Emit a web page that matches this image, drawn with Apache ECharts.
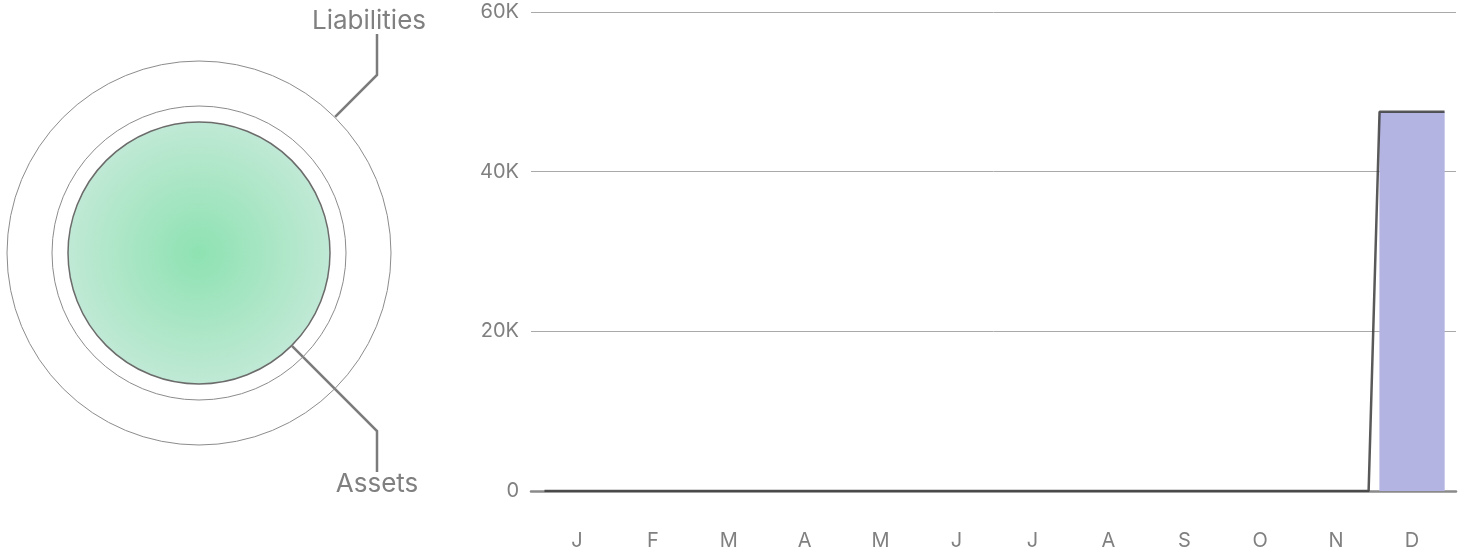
<!DOCTYPE html>
<html><head><meta charset="utf-8">
<script src="https://cdn.jsdelivr.net/npm/echarts@6/dist/echarts.min.js"></script>
<style>html,body{margin:0;padding:0;background:#fff}#c{width:1468px;height:554px}</style>
</head><body><div id="c"></div>
<script>
const months = ['J','F','M','A','M','J','J','A','S','O','N','D'];
const assetsByMonth = [0,0,0,0,0,0,0,0,0,0,0,47500];
const netByMonth = [0,0,0,0,0,0,0,0,0,0,0,47500];
const yTicks = [0, 20000, 40000, 60000];
const pieNames = ['Assets','Liabilities'];
const pieValues = [47500, 0];

const FONT = 'Inter, "Noto Sans", sans-serif';
const TEXT = '#808080';

// line points: each month drawn flat across its bar span
const inset = 0.072;
const linePoints = [];
netByMonth.forEach((v, i) => { linePoints.push([i + inset, v], [i + 1 - inset, v]); });

function leaderLayout(dir, shift, gap) {
  return function (p) {
    const r = p.rect.width / 2;
    const cx = p.rect.x + r, cy = p.rect.y + p.rect.height / 2;
    const k = Math.SQRT1_2;
    const sx = cx + r * k, sy = cy + dir * r * k;
    const ex = cx + 178;
    const ey = sy + dir * (ex - sx);
    const vy = ey + dir * 41;
    return {
      x: ex + shift, y: vy + dir * gap,
      align: 'center',
      verticalAlign: dir < 0 ? 'bottom' : 'top',
      labelLinePoints: [[sx, sy], [ex, ey], [ex, vy]]
    };
  };
}

const pieLabel = { show: true, position: 'outside', formatter: '{b}', fontSize: 26, color: TEXT, fontFamily: FONT };
const pieLine = { show: true, length: 10, length2: 10, smooth: false, lineStyle: { color: '#7b7b7b', width: 2.5 } };

const chart = echarts.init(document.getElementById('c'), null, { renderer: 'canvas' });
chart.setOption({
  animation: false,
  backgroundColor: '#fff',
  grid: [
    { left: 531, right: 12, top: 12, bottom: 63 },
    { left: 539, right: 18, top: 12, bottom: 63 }
  ],
  xAxis: [
    { gridIndex: 0, type: 'value', min: 0, max: 1, axisLabel: { show: false }, axisTick: { show: false },
      splitLine: { show: false }, axisLine: { show: true, lineStyle: { color: '#8a8a8a', width: 2.5 } } },
    { gridIndex: 1, type: 'category', data: months, axisLine: { show: false }, axisTick: { show: false },
      axisLabel: { margin: 40, fontSize: 20, color: TEXT, fontFamily: FONT } },
    { gridIndex: 1, type: 'value', min: 0, max: 12, show: false }
  ],
  yAxis: [
    { gridIndex: 0, type: 'value', min: yTicks[0], max: yTicks[yTicks.length - 1], interval: yTicks[1] - yTicks[0],
      axisLine: { show: false }, axisTick: { show: false },
      axisLabel: { margin: 12, fontSize: 20, color: TEXT, fontFamily: FONT,
        formatter: v => v === 0 ? '0' : (v / 1000) + 'K' },
      splitLine: { lineStyle: { color: '#a9a9a9', width: 1 } } },
    { gridIndex: 1, type: 'value', min: yTicks[0], max: yTicks[yTicks.length - 1], interval: yTicks[1] - yTicks[0], show: false }
  ],
  series: [
    { type: 'bar', name: 'Assets', xAxisIndex: 1, yAxisIndex: 1, data: assetsByMonth,
      barCategoryGap: '14%', itemStyle: { color: '#b4b4e2' }, z: 2 },
    { type: 'line', name: 'Net', xAxisIndex: 2, yAxisIndex: 1, data: linePoints,
      showSymbol: false, symbol: 'none', lineStyle: { color: 'rgba(60,60,60,0.85)', width: 2.5 }, z: 3 },
    { type: 'pie', name: 'Liabilities', center: [199, 253], radius: [147, 192], silent: true,
      startAngle: 90, data: [{ name: pieNames[1], value: pieValues[1] }],
      itemStyle: { color: 'rgba(255,255,255,0)', borderColor: '#8c8c8c', borderWidth: 1 },
      label: pieLabel, labelLine: pieLine, labelLayout: leaderLayout(-1, -8, 0) },
    { type: 'pie', name: 'Assets', center: [199, 253], radius: [0, 131], silent: true,
      startAngle: 90, data: [{ name: pieNames[0], value: pieValues[0] }],
      itemStyle: {
        color: { type: 'radial', x: 0.5, y: 0.5, r: 0.5,
          colorStops: [{ offset: 0, color: '#8ee2b2' }, { offset: 1, color: '#c0e9d5' }] },
        borderColor: '#6b6b6b', borderWidth: 1.5 },
      label: pieLabel, labelLine: pieLine, labelLayout: leaderLayout(1, 0, -1) }
  ]
});
</script>
</body></html>
